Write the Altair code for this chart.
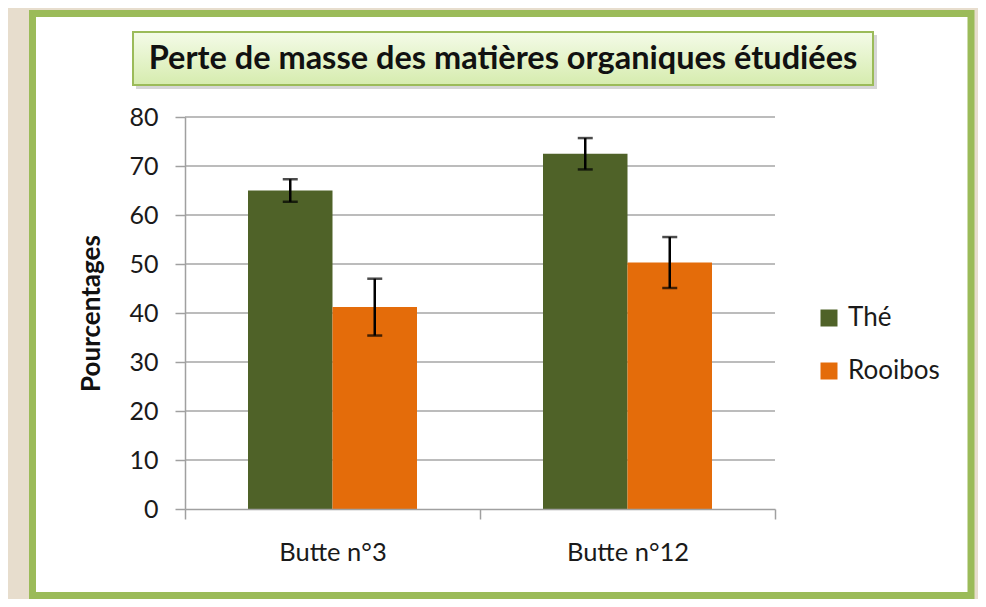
import altair as alt
import pandas as pd

categories = ["Butte n°3", "Butte n°12"]
series = ["Thé", "Rooibos"]
the_values = [65.0, 72.5]
rooibos_values = [41.2, 50.3]
the_errors = [2.3, 3.2]
rooibos_errors = [5.8, 5.2]
y_ticks = [0, 10, 20, 30, 40, 50, 60, 70, 80]
title_text = "Perte de masse des matières organiques étudiées"
y_title = "Pourcentages"
colors = ["#4F6228", "#E46C0A"]

rows = []
for s, vals, errs in [(series[0], the_values, the_errors),
                      (series[1], rooibos_values, rooibos_errors)]:
    for c, v, e in zip(categories, vals, errs):
        rows.append({"butte": c, "serie": s, "valeur": v, "bas": v - e, "haut": v + e})
df = pd.DataFrame(rows)
grid_df = pd.DataFrame({"v": y_ticks[1:]})
one = pd.DataFrame({"k": [0]})

W, H = 590, 392
FONT = "Lato"
AXC = "#A0A0A0"
TXT = "#1a1a1a"

y_scale = alt.Scale(domain=[0, 80], nice=False)
x_scale = alt.Scale(paddingInner=0, paddingOuter=0)
xoff = alt.XOffset("serie:N", sort=series,
                   scale=alt.Scale(paddingInner=0, paddingOuter=0.7456))

x_axis = alt.Axis(title=None, tickBand="extent", tickSize=10, labelPadding=21,
                  labelFontSize=25.5, labelFont=FONT, labelColor=TXT, labelAngle=0,
                  domainColor=AXC, tickColor=AXC, domainWidth=1.5, tickWidth=1.5,
                  zindex=1)
y_axis = alt.Axis(values=y_ticks, title=y_title, titleFont=FONT, titleFontSize=26,
                  titleFontWeight="bold", titleColor="#111111", titlePadding=24,
                  labelFont=FONT, labelFontSize=25, labelColor=TXT, labelPadding=17,
                  tickSize=10, tickColor=AXC, domainColor=AXC, domainWidth=1.5,
                  tickWidth=1.5, grid=False, zindex=1)

panel = alt.Chart(one).mark_rect(fill="white", stroke="#9BBB59", strokeWidth=7).encode(
    x=alt.value(-152.5), x2=alt.value(786), y=alt.value(-103.5), y2=alt.value(478.5))

shadow = alt.Chart(one).mark_rect(fill="#8a8a8a", opacity=0.35).encode(
    x=alt.value(-49), x2=alt.value(692), y=alt.value(-82), y2=alt.value(-28))

title_box = alt.Chart(one).mark_rect(
    fill=alt.Gradient(gradient="linear", x1=0, x2=0, y1=0, y2=1,
                      stops=[alt.GradientStop(offset=0, color="#F4FBE8"),
                             alt.GradientStop(offset=1, color="#D6ECAE")]),
    stroke="#9BBB59", strokeWidth=2).encode(
    x=alt.value(-52), x2=alt.value(688), y=alt.value(-85), y2=alt.value(-32))

title = alt.Chart(one).mark_text(text=title_text, font=FONT, fontSize=32.5,
                                 fontWeight="bold", color="#111111",
                                 align="center", baseline="middle").encode(
    x=alt.value(318), y=alt.value(-58))

grid = alt.Chart(grid_df).mark_rule(color="#A6A6A6", strokeWidth=1.5).encode(
    y=alt.Y("v:Q", scale=y_scale, axis=y_axis), x=alt.value(0), x2=alt.value(W))

xa = alt.X("butte:N", sort=categories, scale=x_scale, axis=x_axis)

bars = alt.Chart(df).mark_bar().encode(
    x=xa,
    xOffset=xoff,
    y=alt.Y("valeur:Q", scale=y_scale, axis=y_axis),
    color=alt.Color("serie:N", sort=series,
                    scale=alt.Scale(domain=series, range=colors),
                    legend=alt.Legend(title=None, orient="none", legendX=631, legendY=188,
                                      symbolType="square", symbolSize=289,
                                      symbolStrokeWidth=0, labelFont=FONT,
                                      labelFontSize=26, labelColor=TXT,
                                      rowPadding=27, labelOffset=6, padding=0)),
)

err_rule = alt.Chart(df).mark_rule(color="black", strokeWidth=2.5).encode(
    x=xa, xOffset=xoff, y=alt.Y("bas:Q", scale=y_scale, axis=y_axis), y2="haut:Q")
err_lo = alt.Chart(df).mark_tick(color="black", size=15, thickness=2.5).encode(
    x=xa, xOffset=xoff, y=alt.Y("bas:Q", scale=y_scale, axis=y_axis))
err_hi = alt.Chart(df).mark_tick(color="black", size=15, thickness=2.5).encode(
    x=xa, xOffset=xoff, y=alt.Y("haut:Q", scale=y_scale, axis=y_axis))

chart = alt.layer(panel, shadow, title_box, title, grid, bars, err_rule, err_lo, err_hi).properties(
    width=W, height=H,
    autosize=alt.AutoSizeParams(type="none"),
    padding={"left": 177, "top": 109, "right": 203, "bottom": 90},
    background="#E7DDCD",
).configure_view(stroke="transparent")

chart.save("out.html", embed_options={"renderer": "svg", "actions": False})
